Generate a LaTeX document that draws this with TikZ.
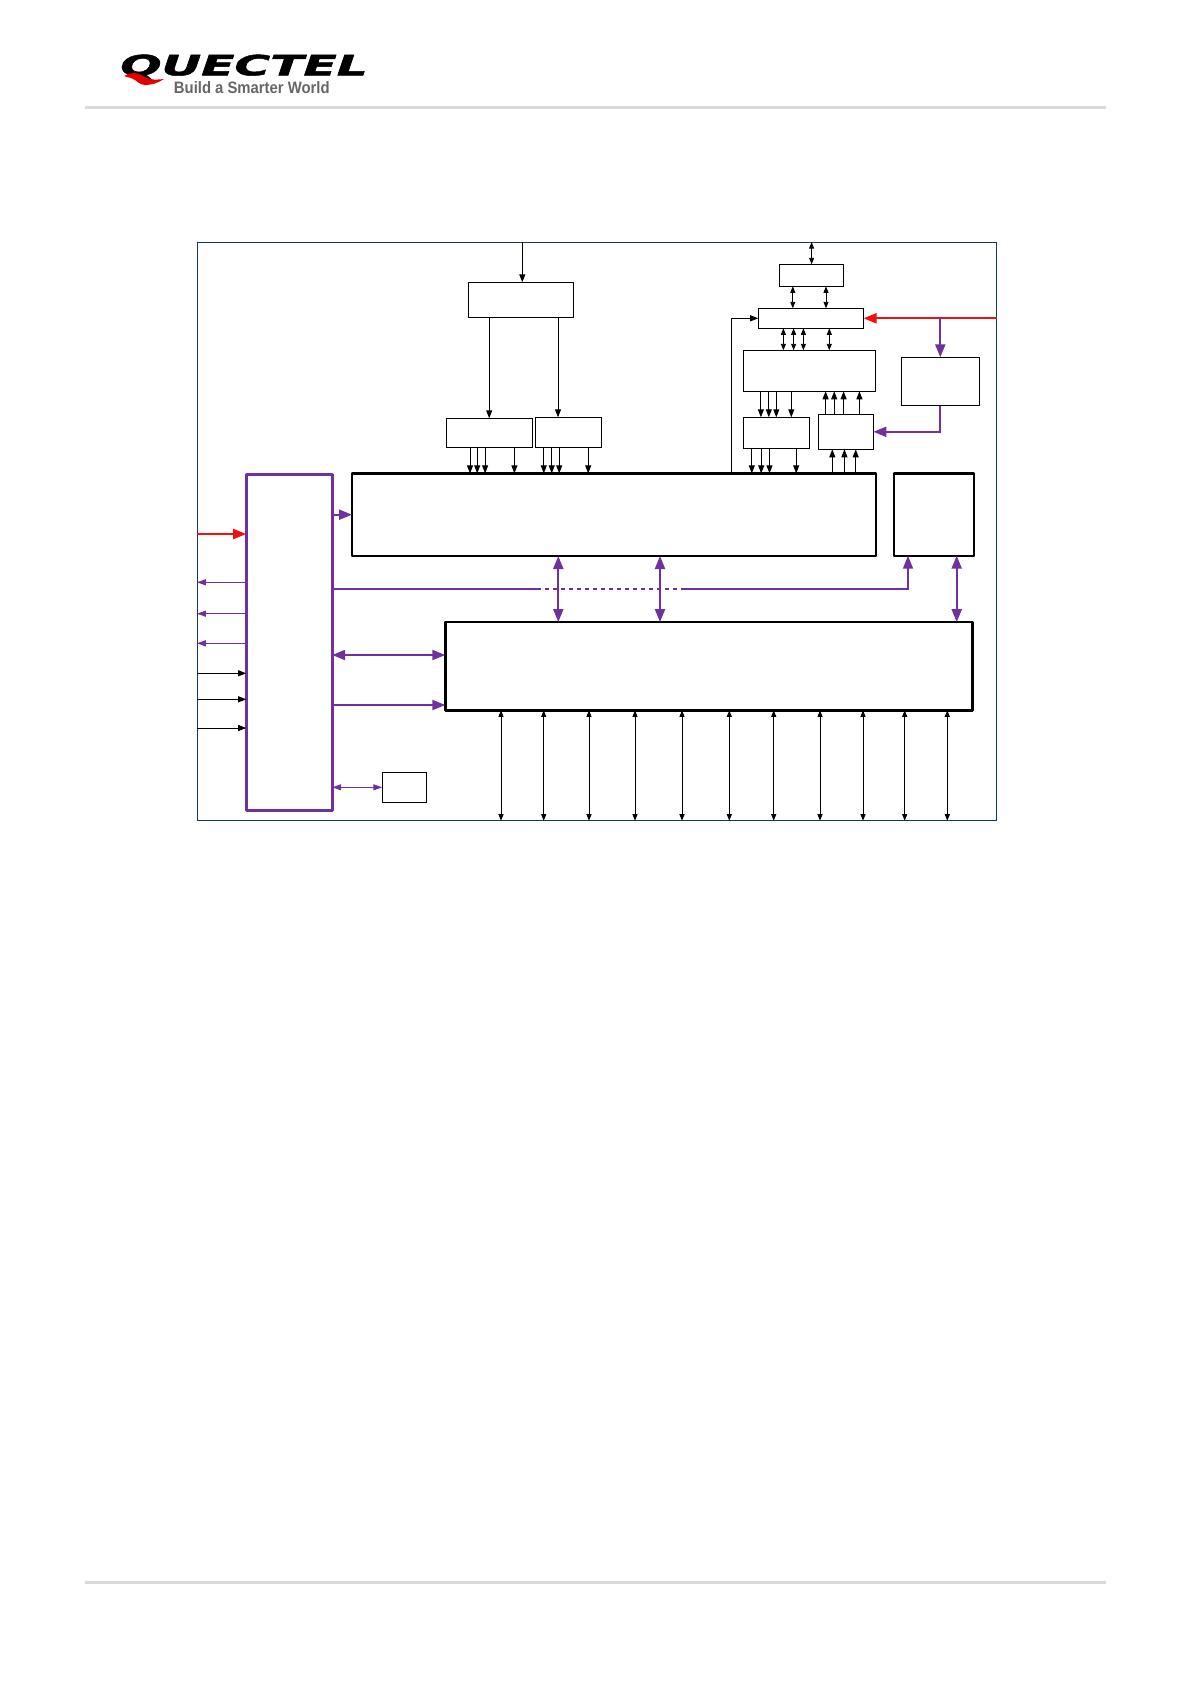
\documentclass[tikz,border=0pt]{standalone}
\usepackage{fontspec}
\setsansfont{Liberation Sans}
\newfontfamily\logofont[BoldItalicFeatures={FakeBold=1.5}]{DejaVu Sans}
\usetikzlibrary{arrows.meta, calc}
\definecolor{busviolet}{HTML}{7030A0}
\definecolor{framenavy}{HTML}{17375E}
\definecolor{powerred}{HTML}{F01010}
\tikzset{
    block/.style={draw=black, line width=0.9pt, inner sep=0pt, outer sep=0pt},
    chip/.style={block, line width=2.4pt, line join=round},
    sig/.style={draw=black, line width=0.9pt, -{Triangle[length=8pt,width=6pt]}},
    sigboth/.style={draw=black, line width=0.9pt, {Triangle[length=6.5pt,width=5pt]}-{Triangle[length=6.5pt,width=5pt]}},
    thinbus/.style={draw=busviolet, line width=1pt, -{Triangle[length=9pt,width=6pt]}},
    bus/.style={draw=busviolet, line width=2.2pt, -{Triangle[length=13pt,width=10pt]}},
    busboth/.style={draw=busviolet, line width=2.2pt, {Triangle[length=13pt,width=10pt]}-{Triangle[length=13pt,width=10pt]}},
    power/.style={draw=powerred, line width=2.2pt, -{Triangle[length=13pt,width=10pt]}},
}

\begin{document}
\begin{tikzpicture}[x=1pt, y=-1pt]
    \useasboundingbox (0,0) rectangle (1190,1684);

    % Page header and footer
    \draw[gray!30, line width=3pt] (85,107.3) -- (1106,107.3);
    \draw[gray!30, line width=3pt] (85,1582) -- (1106,1582);
    \node[inner sep=0pt, font=\logofont\fontsize{28}{28}\bfseries\itshape, xscale=1.74] (logo) at (244,67) {QUECTEL};
    \node[inner sep=0pt, font=\sffamily\fontsize{16.5}{17}\bfseries, text=black!60, xscale=0.9] (slogan) at (251.8,88) {Build a Smarter World};
    \fill[red!90!black] (124,76) .. controls (130,72) and (138,72) .. (143,76) .. controls (148,80) and (155,80) .. (164,79) .. controls (158,83) and (152,85) .. (145,85) .. controls (139,85) and (137,80) .. (131,78) .. controls (128,77) and (126,77) .. (124,76) -- cycle;

    % Outer frame
    \node[draw=framenavy, line width=0.8pt, inner sep=0pt, minimum width=799.2pt, minimum height=577.8pt] (frame) at (596.9,531.4) {};

    % Radio blocks
    \node[block, minimum width=105pt, minimum height=35pt] (filter) at (521,299.8) {};
    \node[block, minimum width=86.2pt, minimum height=29pt] (rxa) at (489.4,432.8) {};
    \node[block, minimum width=66.2pt, minimum height=30pt] (rxb) at (568.2,432.3) {};
    \node[block, minimum width=64pt, minimum height=22pt] (antsw) at (811.3,275.3) {};
    \node[block, minimum width=105.4pt, minimum height=20pt] (duplex) at (810.9,318.3) {};
    \node[block, minimum width=132.4pt, minimum height=41pt] (frontend) at (809.4,370.8) {};
    \node[block, minimum width=66.2pt, minimum height=31pt] (txa) at (776.3,432.8) {};
    \node[block, minimum width=55pt, minimum height=35pt] (txb) at (845.9,431.8) {};
    \node[block, minimum width=78.2pt, minimum height=48.4pt] (tracker) at (940.3,381.5) {};

    % Large chips
    \node[chip, minimum width=524pt, minimum height=82.7pt] (mainchip) at (614,514.7) {};
    \node[chip, minimum width=80pt, minimum height=82.4pt] (sidechip) at (933.7,514.5) {};
    \node[chip, minimum width=527pt, minimum height=88.3pt] (lowerchip) at (708.8,666.2) {};
    \node[chip, draw=busviolet, line width=2.8pt, minimum width=86pt, minimum height=336pt] (pmu) at (289.2,642.3) {};
    \node[block, minimum width=44.4pt, minimum height=30pt] (clock) at (404.5,787.3) {};

    % Receive path
    \draw[sig] (522.3,0 |- frame.north) -- (522.3,0 |- filter.north);
    \draw[sig] (489.2,0 |- filter.south) -- (489.2,0 |- rxa.north);
    \draw[sig] (558,0 |- filter.south) -- (558,0 |- rxb.north);
    \foreach \x in {470,477.2,485.1,514.4}
        \draw[sig] (\x,0 |- rxa.south) -- (\x,0 |- mainchip.north);
    \foreach \x in {543.8,551.7,559.2,588.2}
        \draw[sig] (\x,0 |- rxb.south) -- (\x,0 |- mainchip.north);

    % Transmit path
    \draw[sigboth] (811.6,0 |- frame.north) -- (811.6,0 |- antsw.north);
    \foreach \x in {792.8,826}
        \draw[sigboth] (\x,0 |- antsw.south) -- (\x,0 |- duplex.north);
    \foreach \x in {783.4,793.6,803.4,829.3}
        \draw[sigboth] (\x,0 |- duplex.south) -- (\x,0 |- frontend.north);
    \foreach \x in {760.9,768.8,776.3,791.3}
        \draw[sig] (\x,0 |- frontend.south) -- (\x,0 |- txa.north);
    \foreach \x in {825.6,834.2,843.6,859.4}
        \draw[sig] (\x,0 |- txb.north) -- (\x,0 |- frontend.south);
    \foreach \x in {751.8,761.2,769.5,796.2}
        \draw[sig] (\x,0 |- txa.south) -- (\x,0 |- mainchip.north);
    \foreach \x in {832.3,844.4,855.7}
        \draw[sig] (\x,0 |- mainchip.north) -- (\x,0 |- txb.south);
    \draw[sig] (731.5,0 |- mainchip.north) |- (duplex.west);

    % Battery feed on the right
    \coordinate (tap) at (tracker.north |- duplex.east);
    \draw[power] (frame.east |- duplex.east) -- (duplex.east);
    \draw[bus] (tap) -- (tracker.north);
    \draw[bus] (tracker.south) |- (txb.east);

    % Left side of the power unit
    \draw[power] (frame.west |- 0,534) -- (pmu.west |- 0,534);
    \foreach \y in {582.3,613.7,643.3}
        \draw[thinbus] (pmu.west |- 0,\y) -- (frame.west |- 0,\y);
    \foreach \y in {673.3,699.3,728}
        \draw[sig] (frame.west |- 0,\y) -- (pmu.west |- 0,\y);

    % Right side of the power unit
    \draw[bus] (pmu.east |- 0,514.7) -- (mainchip.west |- 0,514.7);
    \draw[busboth] (pmu.east |- 0,655) -- (lowerchip.west |- 0,655);
    \draw[bus] (pmu.east |- 0,705) -- (lowerchip.west |- 0,705);
    \draw[thinbus, {Triangle[length=9pt,width=6pt]}-{Triangle[length=9pt,width=6pt]}] (pmu.east |- clock.west) -- (clock.west);

    % Supply rail with its dashed middle part
    \coordinate (railgapa) at (536.7,589);
    \coordinate (railgapb) at (681.7,589);
    \draw[busviolet, line width=1.7pt] (pmu.east |- railgapa) -- (railgapa);
    \draw[busviolet, line width=1.7pt, dash pattern=on 4pt off 4pt] (railgapa) -- (railgapb);
    \draw[bus, line width=1.7pt] (railgapb) -- (908,589) -- (908,0 |- sidechip.south);

    % Links between chips
    \foreach \x in {558.3,660}
        \draw[busboth] (\x,0 |- mainchip.south) -- (\x,0 |- lowerchip.north);
    \draw[busboth] (956.7,0 |- sidechip.south) -- (956.7,0 |- lowerchip.north);

    % Lines out of the lower chip
    \foreach \x in {501,543.7,589,635,682,729.3,773.7,820,863,904.7,947.3}
        \draw[sigboth] (\x,0 |- lowerchip.south) -- (\x,0 |- frame.south);

\end{tikzpicture}
\end{document}
